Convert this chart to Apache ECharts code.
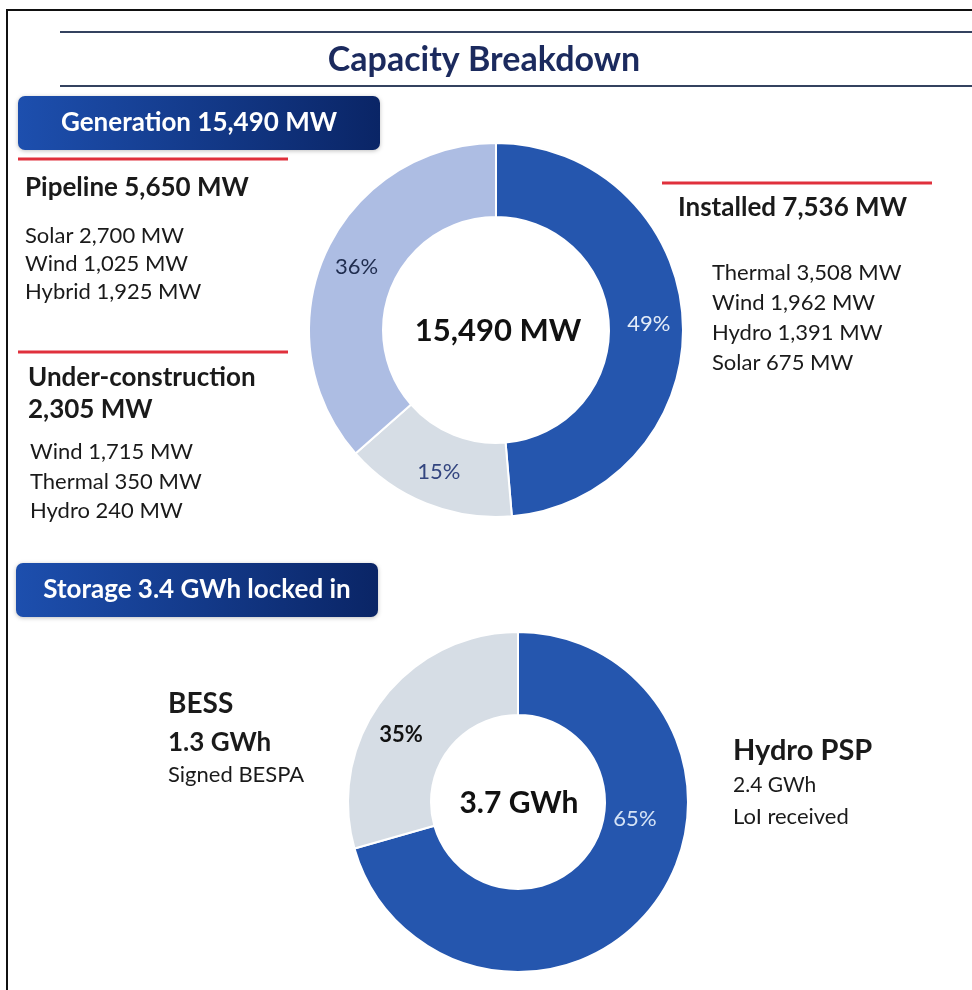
<!DOCTYPE html>
<html>
<head>
<meta charset="utf-8">
<title>Capacity Breakdown</title>
<script src="https://cdn.jsdelivr.net/npm/echarts@6/dist/echarts.min.js"></script>
<style>
    html, body { margin: 0; padding: 0; background: #fff; }
    #main { width: 972px; height: 990px; }
</style>
</head>
<body>
<div id="main"></div>
<script>
// generation donut (MW)
var genNames = ['Installed', 'Under-construction', 'Pipeline'];
var genValues = [7536, 2305, 5650];
var genColors = ['#2556ae', '#d6dde5', '#adbde3'];
var genLabelColors = ['#e4ecf8', '#33457f', '#1f2c4e'];

// side notes
var pipelineItems = ['Solar 2,700 MW', 'Wind 1,025 MW', 'Hybrid 1,925 MW'];
var underItems = ['Wind 1,715 MW', 'Thermal 350 MW', 'Hydro 240 MW'];
var installedItems = ['Thermal 3,508 MW', 'Wind 1,962 MW', 'Hydro 1,391 MW', 'Solar 675 MW'];

// storage donut (GWh) - arc sizes as drawn, percent text as printed
var storageNames = ['Hydro PSP', 'BESS'];
var storageArc = [2.4, 1.0];
var storagePctText = ['65%', '35%'];
var storageColors = ['#2556ae', '#d6dde5'];
var storageLabelColors = ['#d5e3f6', '#111'];

var FONT = 'Lato, "Noto Sans", sans-serif';

var myChart = echarts.init(document.getElementById('main'));

// text centred vertically on y
function txt(x, y, text, size, weight, color, align) {
    return {
        type: 'text',
        style: {
            x: x, y: y, text: text, fontSize: size, fontWeight: weight || 'normal',
            fontFamily: FONT, fill: color || '#1a1a1a', align: align || 'left', verticalAlign: 'middle'
        }
    };
}

function hline(x1, x2, y, color, w) {
    return {
        type: 'line',
        shape: { x1: x1, y1: y, x2: x2, y2: y },
        style: { stroke: color, lineWidth: w }
    };
}

function headBox(x, y, w, h, text) {
    return {
        type: 'group', x: x, y: y,
        children: [{
            type: 'rect',
            shape: { x: 0, y: 0, width: w, height: h, r: 7 },
            style: {
                fill: new echarts.graphic.LinearGradient(0, 0, 1, 0, [
                    { offset: 0, color: '#1d4fae' },
                    { offset: 1, color: '#0a2566' }
                ]),
                shadowBlur: 4, shadowColor: 'rgba(0,0,0,0.25)', shadowOffsetY: 1
            }
        }, {
            type: 'text',
            style: {
                x: w / 2, y: h / 2, text: text, fontSize: 26, fontWeight: 'bold',
                fontFamily: FONT, fill: '#fff', align: 'center', verticalAlign: 'middle'
            }
        }]
    };
}

var graphics = [];
// frame
graphics.push(hline(6, 972, 10, '#111', 2));
graphics.push({ type: 'line', shape: { x1: 7, y1: 10, x2: 7, y2: 990 }, style: { stroke: '#111', lineWidth: 2 } });
// title with rules
graphics.push(hline(60, 972, 32, '#34425f', 2));
graphics.push(hline(60, 972, 86, '#34425f', 2));
graphics.push(txt(484, 60, 'Capacity Breakdown', 34, 'bold', '#1b2a5e', 'center'));
graphics.push(headBox(18, 96, 362, 54, 'Generation 15,490 MW'));
graphics.push(headBox(16, 563, 362, 54, 'Storage 3.4 GWh locked in'));

// red rules
graphics.push(hline(18, 288, 159, '#e0303c', 3));
graphics.push(hline(18, 288, 352, '#e0303c', 3));
graphics.push(hline(662, 932, 183, '#e0303c', 3));

// pipeline
graphics.push(txt(25, 188, 'Pipeline 5,650 MW', 26, 'bold'));
for (var i = 0; i < pipelineItems.length; i++) {
    graphics.push(txt(25, 236 + i * 28, pipelineItems[i], 22));
}
// under construction
graphics.push(txt(28, 378, 'Under-construction', 26, 'bold'));
graphics.push(txt(28, 410, '2,305 MW', 26, 'bold'));
for (var i = 0; i < underItems.length; i++) {
    graphics.push(txt(30, 452 + i * 29.5, underItems[i], 22));
}
// installed
graphics.push(txt(678, 208, 'Installed 7,536 MW', 26, 'bold'));
for (var i = 0; i < installedItems.length; i++) {
    graphics.push(txt(712, 273 + i * 30, installedItems[i], 22));
}
// donut centres
graphics.push(txt(498, 331, '15,490 MW', 31, 'bold', '#111', 'center'));
graphics.push(txt(519, 803, '3.7 GWh', 30, 'bold', '#111', 'center'));

// storage notes
graphics.push(txt(168, 704, 'BESS', 28, 'bold'));
graphics.push(txt(168, 743, '1.3 GWh', 26, 'bold'));
graphics.push(txt(168, 775, 'Signed BESPA', 22));
graphics.push(txt(733, 751, 'Hydro PSP', 29, 'bold'));
graphics.push(txt(733, 785, '2.4 GWh', 21));
graphics.push(txt(733, 817, 'LoI received', 22));

var genData = [];
for (var i = 0; i < genValues.length; i++) {
    genData.push({
        name: genNames[i], value: genValues[i],
        itemStyle: { color: genColors[i] },
        label: { color: genLabelColors[i] }
    });
}
var storageData = [];
for (var i = 0; i < storageArc.length; i++) {
    storageData.push({
        name: storageNames[i], value: storageArc[i],
        itemStyle: { color: storageColors[i] },
        label: { color: storageLabelColors[i], fontWeight: i == 1 ? 'bold' : 'normal' }
    });
}

option = {
    backgroundColor: '#fff',
    animation: false,
    graphic: graphics,
    series: [
        {
            name: 'Generation',
            type: 'pie',
            center: [496, 330],
            radius: [113, 187],
            startAngle: 90,
            clockwise: true,
            itemStyle: { borderColor: '#fff', borderWidth: 2 },
            label: {
                show: true, position: 'inside', fontSize: 22, fontFamily: FONT,
                formatter: function (p) { return Math.round(p.percent) + '%'; }
            },
            labelLine: { show: false },
            emphasis: { disabled: true },
            data: genData
        },
        {
            name: 'Storage',
            type: 'pie',
            center: [518, 802],
            radius: [87, 170],
            startAngle: 90,
            clockwise: true,
            itemStyle: { borderColor: '#fff', borderWidth: 2 },
            label: {
                show: true, position: 'inside', fontSize: 22, fontFamily: FONT,
                formatter: function (p) { return storagePctText[p.dataIndex]; }
            },
            labelLayout: function (p) {
                // printed labels sit higher than the arc middle
                if (p.dataIndex == 0) return { dx: 12, dy: -62 };
                return { dx: -12, dy: 12 };
            },
            labelLine: { show: false },
            emphasis: { disabled: true },
            data: storageData
        }
    ]
};
myChart.setOption(option);
</script>
</body>
</html>
